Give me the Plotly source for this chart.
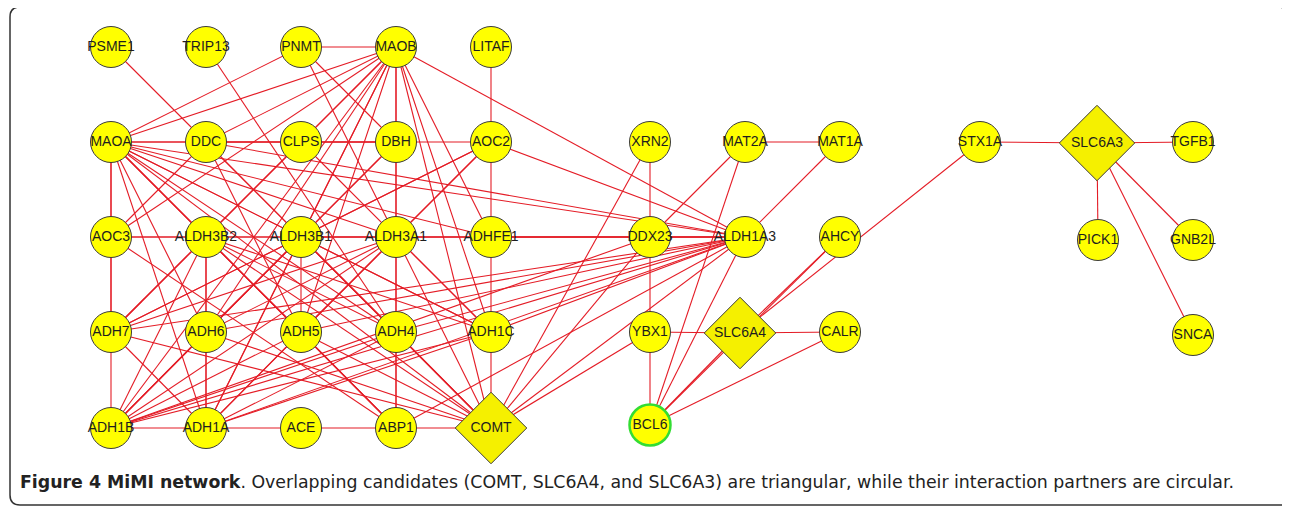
import plotly.graph_objects as go

# ---- network data ----
node_names = [
    "PSME1", "TRIP13", "PNMT", "MAOB", "LITAF",
    "MAOA", "DDC", "CLPS", "DBH", "AOC2", "XRN2", "MAT2A", "MAT1A", "STX1A", "SLC6A3", "TGFB1",
    "AOC3", "ALDH3B2", "ALDH3B1", "ALDH3A1", "ADHFE1", "DDX23", "ALDH1A3", "AHCY", "PICK1", "GNB2L",
    "ADH7", "ADH6", "ADH5", "ADH4", "ADH1C", "YBX1", "SLC6A4", "CALR", "SNCA",
    "ADH1B", "ADH1A", "ACE", "ABP1", "COMT", "BCL6",
]
node_x = [
    111, 206, 301, 396, 491,
    111, 206, 301, 396, 491, 650, 745, 840, 980, 1097, 1193,
    111, 206, 301, 396, 491, 650, 745, 840, 1098, 1193,
    111, 206, 301, 396, 491, 650, 740, 840, 1193,
    111, 206, 301, 396, 491, 650,
]
node_y = [
    47, 47, 47, 47, 47,
    142, 142, 142, 142, 142, 142, 142, 142, 142, 143, 142,
    237, 237, 237, 237, 237, 237, 237, 237, 240, 240,
    332, 332, 332, 332, 332, 332, 333, 332, 335,
    428, 428, 428, 428, 428, 425,
]
candidates = ["COMT", "SLC6A4", "SLC6A3"]
highlighted = ["BCL6"]

edges = [
    ("PSME1", "DDC"), ("TRIP13", "ADH4"), ("PNMT", "MAOB"), ("PNMT", "MAOA"),
    ("PNMT", "DBH"), ("PNMT", "ALDH3A1"), ("LITAF", "AOC2"),
    ("MAOB", "MAOA"), ("MAOB", "DDC"), ("MAOB", "DBH"), ("MAOB", "ALDH1A3"),
    ("MAOB", "ALDH3B2"), ("MAOB", "ALDH3B1"), ("MAOB", "ADH7"), ("MAOB", "ADH6"),
    ("MAOB", "ADH5"), ("MAOB", "ADH1A"), ("MAOB", "ADH1B"), ("MAOB", "ADH1C"),
    ("MAOB", "ADHFE1"), ("MAOB", "COMT"), ("MAOB", "ABP1"), ("MAOB", "AOC3"),
    ("MAOA", "DDC"), ("MAOA", "DBH"), ("MAOA", "AOC3"), ("MAOA", "ALDH3B2"),
    ("MAOA", "ALDH3B1"), ("MAOA", "ALDH3A1"), ("MAOA", "ADH7"), ("MAOA", "ADH6"),
    ("MAOA", "ADH5"), ("MAOA", "ADH4"), ("MAOA", "ADH1C"), ("MAOA", "ADH1A"),
    ("MAOA", "COMT"), ("MAOA", "ALDH1A3"), ("MAOA", "ABP1"), ("MAOA", "ADHFE1"),
    ("DDC", "CLPS"), ("DDC", "DBH"), ("DDC", "AOC3"), ("DDC", "ADH4"),
    ("DDC", "COMT"), ("DDC", "ADH5"), ("DDC", "ALDH1A3"),
    ("CLPS", "DBH"), ("CLPS", "ADH1C"), ("CLPS", "ADH7"),
    ("DBH", "AOC2"), ("DBH", "ALDH3A1"), ("DBH", "ADH6"), ("DBH", "ADH1B"),
    ("AOC2", "ADHFE1"), ("AOC2", "ALDH1A3"), ("AOC2", "ALDH3B1"), ("AOC2", "ADH7"),
    ("AOC2", "ALDH3A1"), ("AOC2", "ADH5"),
    ("AOC3", "ALDH3B2"), ("AOC3", "ALDH3A1"), ("AOC3", "ADH7"), ("AOC3", "ABP1"),
    ("ALDH3B2", "ALDH3B1"), ("ALDH3B2", "ADH6"), ("ALDH3B2", "ADH7"), ("ALDH3B2", "ADH5"),
    ("ALDH3B2", "ADH4"), ("ALDH3B2", "ADH1C"), ("ALDH3B2", "ADH1B"), ("ALDH3B2", "ADH1A"),
    ("ALDH3B2", "COMT"), ("ALDH3B2", "ABP1"),
    ("ALDH3B1", "ALDH3A1"), ("ALDH3B1", "ADH5"), ("ALDH3B1", "ADH7"), ("ALDH3B1", "ADH6"),
    ("ALDH3B1", "ADH4"), ("ALDH3B1", "ADH1C"), ("ALDH3B1", "ADH1B"), ("ALDH3B1", "ADH1A"),
    ("ALDH3B1", "COMT"), ("ALDH3B1", "ALDH1A3"),
    ("ALDH3A1", "ADHFE1"), ("ALDH3A1", "ADH4"), ("ALDH3A1", "ADH7"), ("ALDH3A1", "ADH6"),
    ("ALDH3A1", "ADH5"), ("ALDH3A1", "ADH1C"), ("ALDH3A1", "ADH1B"), ("ALDH3A1", "ADH1A"),
    ("ALDH3A1", "COMT"), ("ALDH3A1", "ALDH1A3"),
    ("ADHFE1", "DDX23"), ("ADHFE1", "ALDH1A3"), ("ADHFE1", "ADH1C"),
    ("ALDH1A3", "ADH7"), ("ALDH1A3", "ADH6"), ("ALDH1A3", "ADH5"), ("ALDH1A3", "ADH4"),
    ("ALDH1A3", "ADH1C"), ("ALDH1A3", "ADH1B"), ("ALDH1A3", "ADH1A"), ("ALDH1A3", "COMT"),
    ("ALDH1A3", "ABP1"), ("ALDH1A3", "BCL6"), ("ALDH1A3", "DDX23"), ("ALDH1A3", "MAT1A"),
    ("ADH7", "ADH1B"), ("ADH7", "ADH1A"), ("ADH7", "COMT"),
    ("ADH6", "ADH1A"), ("ADH6", "COMT"), ("ADH6", "ADH1B"),
    ("ADH5", "ABP1"), ("ADH5", "COMT"), ("ADH5", "ADH1B"), ("ADH5", "ADH1A"),
    ("ADH4", "ABP1"), ("ADH4", "COMT"), ("ADH4", "ADH1B"), ("ADH4", "ADH1A"),
    ("ADH1C", "COMT"), ("ADH1C", "ADH1B"), ("ADH1C", "ADH1A"),
    ("ADH1B", "ADH1A"), ("ADH1A", "ACE"), ("ACE", "ABP1"), ("ABP1", "COMT"),
    ("XRN2", "DDX23"), ("XRN2", "COMT"), ("MAT2A", "MAT1A"), ("MAT2A", "DDX23"),
    ("MAT2A", "BCL6"), ("DDX23", "YBX1"), ("DDX23", "COMT"), ("DDX23", "ADH1B"),
    ("YBX1", "BCL6"), ("YBX1", "SLC6A4"), ("YBX1", "COMT"),
    ("SLC6A4", "CALR"), ("SLC6A4", "BCL6"), ("CALR", "BCL6"),
    ("AHCY", "SLC6A4"), ("AHCY", "BCL6"), ("STX1A", "SLC6A4"), ("STX1A", "SLC6A3"),
    ("SLC6A3", "TGFB1"), ("SLC6A3", "PICK1"), ("SLC6A3", "GNB2L"), ("SLC6A3", "SNCA"),
]

caption_bold = "Figure 4 MiMI network"
caption_rest = (". Overlapping candidates (COMT, SLC6A4, and SLC6A3) are triangular, "
                "while their interaction partners are circular.")

# ---- build figure ----
pos = {n: (x, y) for n, x, y in zip(node_names, node_x, node_y)}
ex, ey = [], []
for a, b in edges:
    ex += [pos[a][0], pos[b][0], None]
    ey += [pos[a][1], pos[b][1], None]

fig = go.Figure()
fig.add_trace(go.Scatter(
    x=ex, y=ey, mode="lines", hoverinfo="skip",
    line=dict(color="rgb(228,28,38)", width=1.1), showlegend=False,
))

label_font = dict(family="Liberation Sans, Arial", size=14, color="#1e1e1e")

circ = [n for n in node_names if n not in candidates]
fig.add_trace(go.Scatter(
    x=[pos[n][0] for n in circ], y=[pos[n][1] for n in circ],
    mode="markers+text", text=circ, textposition="middle center",
    textfont=label_font,
    marker=dict(symbol="circle", size=41, color="#ffff00", opacity=1,
                line=dict(color=["#33dd33" if n in highlighted else "#3a3a3a" for n in circ],
                          width=[2.5 if n in highlighted else 1 for n in circ])),
    showlegend=False, hoverinfo="text",
))
fig.add_trace(go.Scatter(
    x=[pos[n][0] for n in candidates], y=[pos[n][1] for n in candidates],
    mode="markers+text", text=candidates, textposition="middle center",
    textfont=label_font,
    marker=dict(symbol="diamond", size=[55, 55, 58], color="#f5f000", opacity=1,
                line=dict(color="#3a3a3a", width=1)),
    showlegend=False, hoverinfo="text",
))

# rounded frame
fig.add_shape(type="path", xref="x", yref="y",
              path="M 1278 7 L 20 7 Q 10 7 10 17 L 10 495 Q 10 505 20 505 L 1300 505 "
                   "M 1278 7 Q 1288 7 1288 17 L 1288 505",
              line=dict(color="#333333", width=1.5), layer="below")

fig.add_annotation(x=18, y=482, xref="x", yref="y", xanchor="left", yanchor="middle",
                   text=f"<b>{caption_bold}</b>{caption_rest}", showarrow=False,
                   font=dict(family="DejaVu Sans", size=17.35, color="#222222"))

# page body has an 8px margin; shift the axis ranges so marks land at page pixels
fig.update_layout(
    width=1290, height=509, margin=dict(l=0, r=0, t=0, b=0),
    paper_bgcolor="white", plot_bgcolor="white",
    xaxis=dict(range=[8, 1298], visible=False, fixedrange=True),
    yaxis=dict(range=[517, 8], visible=False, fixedrange=True),
)
fig.write_html("out.html")
